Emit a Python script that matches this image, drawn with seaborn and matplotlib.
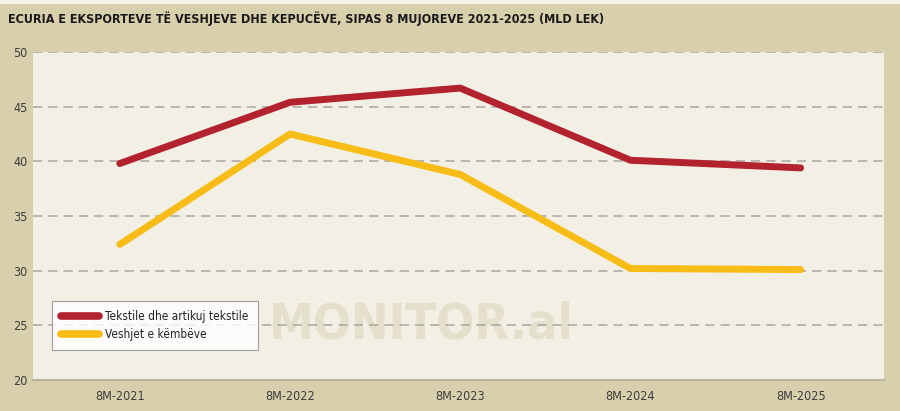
import matplotlib
matplotlib.use("Agg")
import matplotlib.pyplot as plt
import seaborn as sns
import pandas as pd

categories = ["8M-2021", "8M-2022", "8M-2023", "8M-2024", "8M-2025"]
tekstile = [39.8, 45.4, 46.7, 40.1, 39.4]
veshjet = [32.4, 42.5, 38.8, 30.2, 30.1]
series_names = ["Tekstile dhe artikuj tekstile", "Veshjet e këmbëve"]
yticks = [20, 25, 30, 35, 40, 45, 50]
title = "ECURIA E EKSPORTEVE TË VESHJEVE DHE KEPUCËVE, SIPAS 8 MUJOREVE 2021-2025 (MLD LEK)"

df = pd.DataFrame({
    "cat": categories * 2,
    "x": list(range(len(categories))) * 2,
    "val": tekstile + veshjet,
    "series": [series_names[0]] * len(categories) + [series_names[1]] * len(categories),
})

sns.set_theme(style="white")
plt.rcParams["font.family"] = ["DejaVu Sans"]

fig = plt.figure(figsize=(9, 4.11), dpi=100)
fig.patch.set_facecolor("#d8d0ac")
fig.add_artist(plt.Rectangle((0, 0.99), 1, 0.01, transform=fig.transFigure,
                             facecolor="#f6f3e6", edgecolor="none"))

ax = fig.add_axes([33 / 900, 1 - 380 / 411, (884 - 33) / 900, (380 - 52) / 411])
ax.set_facecolor("#f2efe4")

palette = {series_names[0]: "#b3232f", series_names[1]: "#f7bd16"}
sns.lineplot(data=df, x="x", y="val", hue="series", palette=palette, ax=ax,
             linewidth=5.0, solid_capstyle="round", legend=True, zorder=3)

ax.set_xlim(-0.51, 4.49)
ax.set_ylim(20, 50)
ax.set_yticks(yticks)
ax.set_xticks(range(len(categories)))
ax.set_xticklabels(categories)
ax.set_xlabel("")
ax.set_ylabel("")
ax.tick_params(axis="both", length=0, labelsize=9, labelcolor="#3c3c3c")
ax.tick_params(axis="x", pad=7)
ax.tick_params(axis="y", pad=4)
for lbl in ax.get_xticklabels() + ax.get_yticklabels():
    lbl.set_fontfamily("DejaVu Sans")
    lbl.set_fontstretch("condensed")

for y in yticks[1:]:
    ax.axhline(y, color="#a8a6a0", linestyle=(0, (6, 4)), linewidth=1.1, zorder=1)

for s in ["top", "right", "left"]:
    ax.spines[s].set_visible(False)
ax.spines["bottom"].set_color("#b9b5a5")
ax.spines["bottom"].set_linewidth(1.5)

ax.text(0.456, 0.17, "MONITOR.al", transform=ax.transAxes, fontsize=36,
        fontweight="bold", fontstretch="condensed", color="#e5e0cb",
        ha="center", va="center", zorder=0.5)

leg = ax.legend(loc="lower left", bbox_to_anchor=(0.022, 0.091), frameon=True,
                fancybox=False, handlelength=3.2, handletextpad=0.5,
                borderpad=0.8, labelspacing=0.4, borderaxespad=0,
                prop={"family": "DejaVu Sans", "stretch": "condensed", "size": 8.5})
leg.get_frame().set_edgecolor("#8a8a8a")
leg.get_frame().set_facecolor("white")
leg.get_frame().set_linewidth(0.8)
for line in leg.get_lines():
    line.set_linewidth(5.5)
    line.set_solid_capstyle("round")
for t in leg.get_texts():
    t.set_color("#222222")

fig.text(8 / 900, 1 - 19 / 411, title, fontsize=9.0, fontweight="bold",
         fontstretch="condensed", color="#1a1a1a", ha="left", va="center")

fig.savefig("out.png", dpi=100, facecolor=fig.get_facecolor())
